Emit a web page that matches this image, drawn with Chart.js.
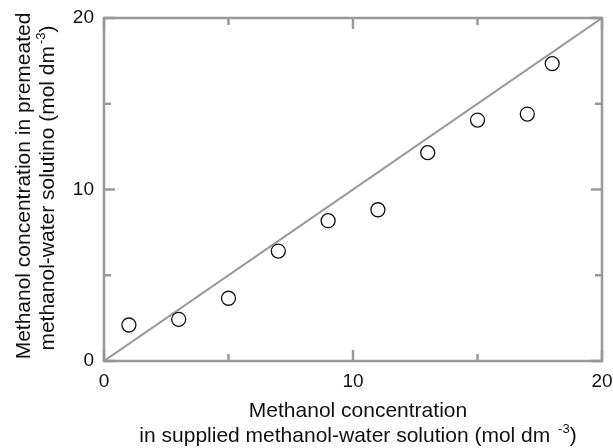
<!DOCTYPE html>
<html>
<head>
<meta charset="utf-8">
<title>Methanol concentration</title>
<script src="https://cdn.jsdelivr.net/npm/chart.js@4.4.1/dist/chart.umd.min.js"></script>
<style>
	html, body { margin: 0; padding: 0; background: #fff; }
	canvas { display: block; }
</style>
</head>
<body>
<canvas id="canvas" width="613" height="448"></canvas>
<script>
// supplied vs permeated methanol concentration (mol dm-3)
var supplied = [1, 3, 5, 7, 9, 11, 13, 15, 17, 18];
var permeated = [2.1, 2.43, 3.66, 6.41, 8.18, 8.82, 12.15, 14.05, 14.4, 17.34];

// y = x reference line
var lineX = [0, 20];
var lineY = [0, 20];

var tickValues = [0, 5, 10, 15, 20];
var tickLabels = [0, 10, 20];

var FONT = '"Liberation Sans", Arial, sans-serif';
var GRAY = '#999999';
var INK = '#111111';

function toPoints(xs, ys){
	var pts = new Array();
	for(var i = 0; i < xs.length; i++){
		pts[i] = {x: xs[i], y: ys[i]};
	}
	return pts;
}

// draws a run of [text, isSuperscript] pieces starting at x, on baseline y
function measureRun(ctx, parts){
	var w = 0;
	for(var i = 0; i < parts.length; i++){
		ctx.font = parts[i][1] ? '13px ' + FONT : '21px ' + FONT;
		w += ctx.measureText(parts[i][0]).width;
		if(parts[i][1]) w += 2;
	}
	return w;
}
function drawRun(ctx, parts, x, y){
	for(var i = 0; i < parts.length; i++){
		if(parts[i][1]){
			ctx.font = '13px ' + FONT;
			x += 2;
			ctx.fillText(parts[i][0], x, y - 9);
		}else{
			ctx.font = '21px ' + FONT;
			ctx.fillText(parts[i][0], x, y);
		}
		x += ctx.measureText(parts[i][0]).width;
	}
}

var frameAndTitles = {
	id: 'frameAndTitles',
	afterDraw: function(chart){
		var ctx = chart.ctx;
		var a = chart.chartArea;
		var xs = chart.scales.x;
		var ys = chart.scales.y;
		ctx.save();

		// box round the plot
		ctx.strokeStyle = GRAY;
		ctx.lineWidth = 2.5;
		ctx.strokeRect(a.left, a.top, a.right - a.left, a.bottom - a.top);

		// inward ticks on all four sides
		ctx.beginPath();
		for(var i = 0; i < tickValues.length; i++){
			var v = tickValues[i];
			var len = (v % 10 == 0) ? 11 : 7;
			var px = xs.getPixelForValue(v);
			var py = ys.getPixelForValue(v);
			ctx.moveTo(px, a.bottom); ctx.lineTo(px, a.bottom - len);
			ctx.moveTo(px, a.top); ctx.lineTo(px, a.top + len);
			ctx.moveTo(a.left, py); ctx.lineTo(a.left + len, py);
			ctx.moveTo(a.right, py); ctx.lineTo(a.right - len, py);
		}
		ctx.stroke();

		// axis titles
		ctx.fillStyle = INK;
		ctx.textBaseline = 'alphabetic';
		ctx.textAlign = 'left';

		var xLine1 = [['Methanol concentration', false]];
		var xLine2 = [['in supplied methanol-water solution (mol dm ', false], ['-3', true], [')', false]];
		var cx = 358;
		drawRun(ctx, xLine1, cx - measureRun(ctx, xLine1) / 2, 417);
		drawRun(ctx, xLine2, cx - measureRun(ctx, xLine2) / 2, 442);

		var yLine1 = [['Methanol concentration in premeated', false]];
		var yLine2 = [['methanol-water solutino (mol dm', false], ['-3', true], [')', false]];
		ctx.save();
		ctx.translate(30, 186);
		ctx.rotate(-Math.PI / 2);
		drawRun(ctx, yLine1, -measureRun(ctx, yLine1) / 2, 0);
		ctx.restore();
		ctx.save();
		ctx.translate(54, 188);
		ctx.rotate(-Math.PI / 2);
		drawRun(ctx, yLine2, -measureRun(ctx, yLine2) / 2, 0);
		ctx.restore();

		ctx.restore();
	}
};

function tickCallback(value){
	return tickLabels.indexOf(value) >= 0 ? String(value) : '';
}

var canvas = document.getElementById('canvas');
var ctx = canvas.getContext('2d');

var chart = new Chart(ctx, {
	type: 'scatter',
	data: {
		datasets: [
			{
				label: 'y = x',
				data: toPoints(lineX, lineY),
				showLine: true,
				borderColor: GRAY,
				borderWidth: 2,
				pointRadius: 0,
				order: 2
			},
			{
				label: 'measured',
				data: toPoints(supplied, permeated),
				pointStyle: 'circle',
				pointRadius: 7,
				pointBorderWidth: 1.3,
				pointBorderColor: INK,
				pointBackgroundColor: 'rgba(255,255,255,0)',
				showLine: false,
				order: 1
			}
		]
	},
	plugins: [frameAndTitles],
	options: {
		responsive: false,
		animation: false,
		layout: { padding: { left: 0, top: 18, right: 11, bottom: 0 } },
		plugins: {
			legend: { display: false },
			tooltip: { enabled: false }
		},
		scales: {
			x: {
				type: 'linear',
				min: 0, max: 20,
				grid: { display: false, drawTicks: false },
				border: { display: false },
				ticks: {
					stepSize: 5, autoSkip: false, maxRotation: 0,
					padding: 9, color: INK,
					font: { family: FONT, size: 19 },
					callback: tickCallback
				},
				// fixed plot box: 104..602 across, 18..361 down
				afterFit: function(scale){
					scale.height = 87;
					scale.paddingLeft = 0;
					scale.paddingRight = 0;
				}
			},
			y: {
				type: 'linear',
				min: 0, max: 20,
				grid: { display: false, drawTicks: false },
				border: { display: false },
				ticks: {
					stepSize: 5, autoSkip: false,
					padding: 10, color: INK,
					font: { family: FONT, size: 19 },
					callback: tickCallback
				},
				afterFit: function(scale){
					scale.width = 104;
					scale.paddingTop = 0;
					scale.paddingBottom = 0;
				}
			}
		}
	}
});
</script>
</body>
</html>
